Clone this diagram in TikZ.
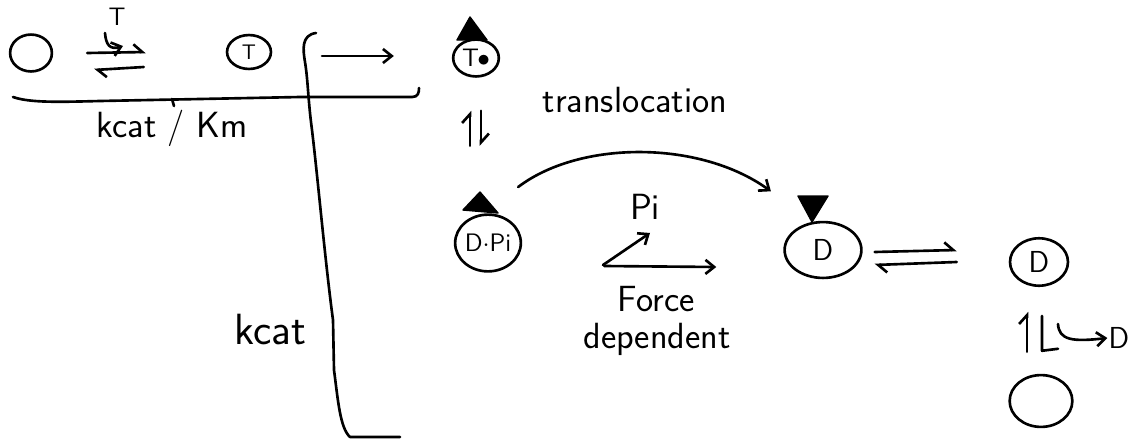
\documentclass[tikz,border=0pt]{standalone}
\usetikzlibrary{arrows.meta,shapes.geometric}
\begin{document}
\begin{tikzpicture}[x=0.02cm,y=-0.02cm,line width=1.5pt,line cap=round,line join=round,
  font=\sffamily,
  ell/.style={draw,ellipse,inner sep=0pt},
  lbl/.style={inner sep=0pt},
  tip/.style={-{Straight Barb[length=5pt,width=8pt]}},
  harpu/.style={-{Straight Barb[harpoon,length=5pt,width=9pt]}},
  tri/.style={fill=black,draw=black,line width=0.8pt}]
\useasboundingbox (0,0) rectangle (1140,440);

% nodes
\node[ell,minimum width=23.8pt,minimum height=21pt] (c0) at (31,53) {};
\node[ell,minimum width=25pt,minimum height=19.3pt,font=\sffamily\large] (cT) at (249,52) {T};
\node[ell,minimum width=26pt,minimum height=21pt,font=\sffamily\Large] (cTr) at (476,58) {T\kern-1pt$\bullet$};
\node[ell,minimum width=37.4pt,minimum height=32.3pt,font=\sffamily\Large] (cDPi) at (488,243) {D$\cdot$Pi};
\node[ell,minimum width=43.7pt,minimum height=31.8pt,font=\sffamily\LARGE] (cD1) at (823,250) {D};
\node[ell,minimum width=33pt,minimum height=27pt,font=\sffamily\LARGE] (cD2) at (1039,262) {D};
\node[ell,minimum width=35.7pt,minimum height=29.5pt] (c3) at (1041,401) {};

% labels
\node[lbl,font=\sffamily\Large] (tT) at (117,17) {T};
\node[lbl,font=\sffamily\huge] (kk) at (172,128) {kcat / Km};
\node[lbl,font=\sffamily\Huge] (kc) at (270,330) {kcat};
\node[lbl,font=\sffamily\huge] (tr) at (635,100) {translocation};
\node[lbl,font=\sffamily\huge] (pi) at (645,207) {Pi};
\node[lbl,font=\sffamily\huge] (fo) at (656,299) {Force};
\node[lbl,font=\sffamily\huge] (de) at (657,339) {dependent};
\node[lbl,font=\sffamily\LARGE] (lD) at (1119,338) {D};

% triangles
\fill[tri] (470,17) -- (457,40) -- (487,40) -- cycle;
\fill[tri] (480,192) -- (463,210) -- (498,213) -- cycle;
\fill[tri] (798,196) -- (828,196) -- (812,222) -- cycle;

% c0 <=> cT
\draw[harpu] ([shift={(34,0)}]c0.east) -- ([shift={(-80,0)}]cT.west);
\draw[harpu] ([shift={(-82,15)}]cT.west) -- ([shift={(41,17)}]c0.east);
\draw[tip] ([shift={(-12,6)}]tT.south) .. controls (106,45) and (110,50) .. (123,46);

% underline bracket
\draw (13,97) .. controls (30,103) and (60,102) .. (100,101) -- (300,97) -- (412,97)
  .. controls (418,97) and (419,93) .. (419,88);
\draw (172,99) -- (174,106);

% brace and long line
\coordinate (bk) at (322,56);
\draw (316,33) .. controls (301,35) and (303,50) .. (305,62)
  .. controls (308,80) and (308,100) .. (312,130)
  .. controls (318,180) and (325,260) .. (333,320)
  -- (334,370) .. controls (338,400) and (340,428) .. (350,437) -- (400,437);
\draw[tip] (bk) -- ([shift={(-58,-2)}]cTr.west);

% Tr <=> DPi
\draw[harpu] ([shift={(-6,68)}]cTr.south) -- ([shift={(-6,33)}]cTr.south);
\draw[harpu] ([shift={(5,33)}]cTr.south) -- ([shift={(5,68)}]cTr.south);

% translocation
\draw[tip] ([shift={(6,-35)}]cDPi.north east) .. controls (580,140) and (700,140) .. ([shift={(-24,-38)}]cD1.north west);

% force dependent
\coordinate (br) at (603,265);
\draw[tip] ([shift={(82,23)}]cDPi.east) -- ([shift={(-67,17)}]cD1.west);
\draw[tip] (br) -- ([shift={(5,12)}]pi.south);

% D1 <=> D2
\draw[harpu] ([shift={(12,2)}]cD1.east) -- ([shift={(-52,-12)}]cD2.west);
\draw[harpu] ([shift={(-52,0)}]cD2.west) -- ([shift={(12,15)}]cD1.east);

% D2 <=> c3
\draw[harpu] ([shift={(-14,-22)}]c3.north) -- ([shift={(-14,-62)}]c3.north);
\draw ([shift={(3,29)}]cD2.south) -- ([shift={(1,-23)}]c3.north) -- ([shift={(17,-25)}]c3.north);
\draw[tip] ([shift={(19,37)}]cD2.south) .. controls (1059,340) and (1072,342) .. (lD.west);
\end{tikzpicture}
\end{document}
